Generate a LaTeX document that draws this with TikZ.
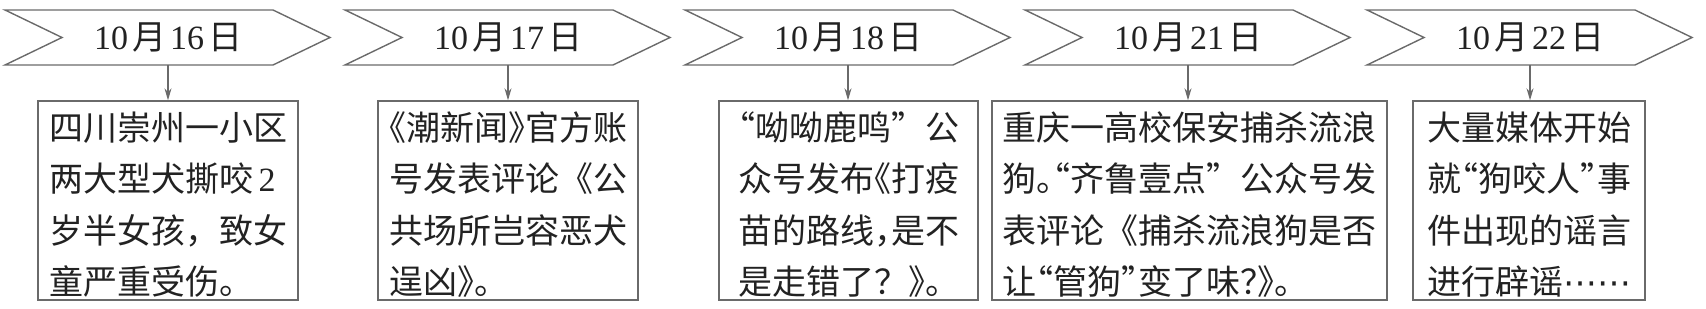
\documentclass[tikz,border=0pt]{standalone}
\usepackage{fontspec}
\setmainfont{Liberation Serif}
\newfontfamily\cjk{Noto Sans CJK SC}
\newfontfamily\cjkh[RawFeature=+halt]{Noto Sans CJK SC}
\newfontfamily\dejavu{DejaVu Sans}
\newcommand{\hw}[1]{{\cjkh #1}}
\newcommand{\cjkdots}{\makebox[2em][s]{{\dejavu ⋯}\hfill{\dejavu ⋯}}}
\usetikzlibrary{arrows.meta}
\definecolor{linegray}{HTML}{6A6A6A}
\definecolor{ink}{HTML}{222222}
\tikzset{
  chev/.style={draw=linegray, line width=0.7pt, line join=miter},
  datelabel/.style={inner sep=0pt, text=ink, font=\fontsize{17}{20}\selectfont},
  eventbox/.style={draw=linegray, line width=0.7pt, minimum height=99.5pt, inner sep=0pt},
  eventtext/.style={inner sep=0pt, align=left, text=ink, font=\cjk\fontsize{17}{25.7}\selectfont},
  link/.style={draw=linegray, line width=0.6pt, -{Stealth[length=6pt,width=3.5pt]}},
}
\newcommand{\dt}[2]{#1\hspace{2pt}{\cjk 月}\hspace{2pt}#2\hspace{2pt}{\cjk 日}}
\begin{document}
\begin{tikzpicture}[x=0.5pt,y=-0.5pt]
\useasboundingbox (0,0) rectangle (1706,309);
% chevrons
\foreach \xo in {5,345,685,1025,1367}{
  \draw[chev] (\xo,10) -- (\xo+268,10) -- (\xo+325,37.5) -- (\xo+268,65) -- (\xo,65) -- (\xo+57,37.5) -- cycle;
}
\node[datelabel] (d1) at (168,38) {\dt{10}{16}};
\node[datelabel] (d2) at (508,38) {\dt{10}{17}};
\node[datelabel] (d3) at (848,38) {\dt{10}{18}};
\node[datelabel] (d4) at (1188,38) {\dt{10}{21}};
\node[datelabel] (d5) at (1530,38) {\dt{10}{22}};
\coordinate (c1) at (168,65);
\coordinate (c2) at (508,65);
\coordinate (c3) at (848,65);
\coordinate (c4) at (1188,65);
\coordinate (c5) at (1530,65);
% boxes
\node[eventbox, minimum width=130pt] (b1) at (168,200.5) {};
\node[eventbox, minimum width=130pt] (b2) at (508,200.5) {};
\node[eventbox, minimum width=129.5pt] (b3) at (848.5,200.5) {};
\node[eventbox, minimum width=197.5pt] (b4) at (1189.5,200.5) {};
\node[eventbox, minimum width=116pt] (b5) at (1529,200.5) {};
% texts
\node[eventtext, yshift=-2pt] (t1) at (b1.center)
  {四川崇州一小区\\两大型犬撕咬{\rmfamily\,2}\\岁半女孩，致女\\童严重受伤。};
\node[eventtext, yshift=-2pt] (t2) at (b2.center)
  {\hw{《}潮新闻\hw{》}官方账\\号发表评论《公\\共场所岂容恶犬\\逞凶\hw{》}。};
\node[eventtext, yshift=-2pt] (t3) at (b3.center)
  {\hw{“}呦呦鹿鸣”公\\众号发布\hw{《}打疫\\苗的路线\hw{，}是不\\是走错了？\hw{》}。};
\node[eventtext, yshift=-2pt] (t4) at (b4.center)
  {重庆一高校保安捕杀流浪\\狗\hw{。“}齐鲁壹点”公众号发\\表评论《捕杀流浪狗是否\\让\hw{“}管狗\hw{”}变了味\hw{？》}。};
\node[eventtext, yshift=-2pt] (t5) at (b5.center)
  {大量媒体开始\\就\hw{“}狗咬人\hw{”}事\\件出现的谣言\\进行辟谣\cjkdots};
% connectors
\foreach \i in {1,...,5}{
  \draw[link] (c\i) -- (c\i |- b\i.north);
}
\end{tikzpicture}
\end{document}
